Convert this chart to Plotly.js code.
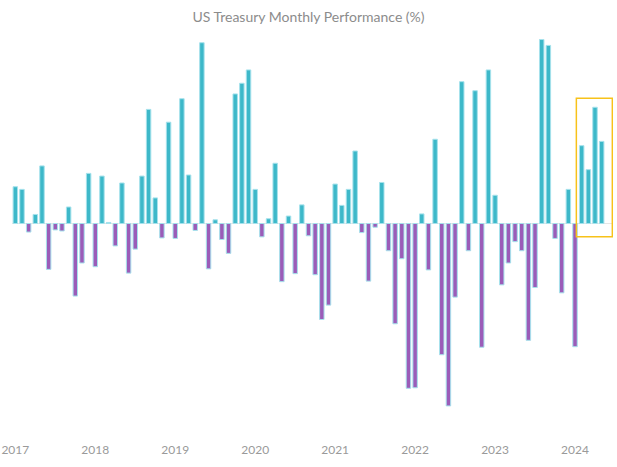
<!DOCTYPE html>
<html>
<head>
<meta charset="utf-8">
<script src="https://cdn.plot.ly/plotly-3.0.1.min.js"></script>
<style>html,body{margin:0;padding:0;background:#fff;}#chart{width:617px;height:467px;}</style>
</head>
<body>
<div id="chart"></div>
<script>
const months = [
  "Apr 2017","May 2017","Jun 2017","Jul 2017","Aug 2017","Sep 2017","Oct 2017","Nov 2017","Dec 2017",
  "Jan 2018","Feb 2018","Mar 2018","Apr 2018","May 2018","Jun 2018","Jul 2018","Aug 2018","Sep 2018","Oct 2018","Nov 2018","Dec 2018",
  "Jan 2019","Feb 2019","Mar 2019","Apr 2019","May 2019","Jun 2019","Jul 2019","Aug 2019","Sep 2019","Oct 2019","Nov 2019","Dec 2019",
  "Jan 2020","Feb 2020","Mar 2020","Apr 2020","May 2020","Jun 2020","Jul 2020","Aug 2020","Sep 2020","Oct 2020","Nov 2020","Dec 2020",
  "Jan 2021","Feb 2021","Mar 2021","Apr 2021","May 2021","Jun 2021","Jul 2021","Aug 2021","Sep 2021","Oct 2021","Nov 2021","Dec 2021",
  "Jan 2022","Feb 2022","Mar 2022","Apr 2022","May 2022","Jun 2022","Jul 2022","Aug 2022","Sep 2022","Oct 2022","Nov 2022","Dec 2022",
  "Jan 2023","Feb 2023","Mar 2023","Apr 2023","May 2023","Jun 2023","Jul 2023","Aug 2023","Sep 2023","Oct 2023","Nov 2023","Dec 2023",
  "Jan 2024","Feb 2024","Mar 2024","Apr 2024","May 2024","Jun 2024","Jul 2024","Aug 2024"
];
const returnsPct = [
  0.69, 0.64, -0.16, 0.17, 1.08, -0.86, -0.12, -0.14, 0.31,
  -1.36, -0.74, 0.94, -0.81, 0.89, 0.02, -0.42, 0.76, -0.93, -0.48, 0.89, 2.14,
  0.48, -0.27, 1.90, -0.28, 2.34, 0.91, -0.13, 3.39, -0.85, 0.07, -0.30, -0.56,
  2.43, 2.63, 2.88, 0.64, -0.25, 0.09, 1.13, -1.09, 0.14, -0.94, 0.35, -0.23,
  -0.96, -1.80, -1.53, 0.74, 0.34, 0.64, 1.36, -0.17, -1.08, -0.07, 0.77, -0.51,
  -1.88, -0.66, -3.09, -3.08, 0.18, -0.87, 1.58, -2.46, -3.42, -1.38, 2.66, -0.51,
  2.49, -2.32, 2.88, 0.53, -1.15, -0.74, -0.34, -0.51, -2.19, -1.20, 3.45, 3.34,
  -0.28, -1.30, 0.64, -2.31, 1.46, 1.01, 2.18, 1.54
];
const tickMonths = ["Apr 2017","Apr 2018","Apr 2019","Apr 2020","Apr 2021","Apr 2022","Apr 2023","Apr 2024"];
const tickLabels = ["2017","2018","2019","2020","2021","2022","2023","2024"];
const highlightMonths = ["May 2024","Jun 2024","Jul 2024","Aug 2024"];

const posColor = "#3db8c9";
const negColor = "#9b5cb8";
const colors = returnsPct.map(v => v >= 0 ? posColor : negColor);

const hiStart = months.indexOf(highlightMonths[0]);
const hiEnd = months.indexOf(highlightMonths[highlightMonths.length - 1]);
const hiVals = returnsPct.slice(hiStart, hiEnd + 1);

const trace = {
  type: "bar",
  x: months,
  y: returnsPct,
  marker: { color: colors, line: { color: "#a6e2ec", width: 1 } },
  hoverinfo: "x+y"
};

const layout = {
  width: 617, height: 467,
  margin: { l: 11.67, r: 4, t: 35, b: 26 },
  paper_bgcolor: "#ffffff", plot_bgcolor: "#ffffff",
  bargap: 0.33,
  showlegend: false,
  title: {
    text: "US Treasury Monthly Performance (%)",
    x: 0.5, xanchor: "center", y: 1 - 17/467, yanchor: "middle",
    font: { family: "Lato, 'Open Sans', sans-serif", size: 14, color: "#8c8c8c" }
  },
  xaxis: {
    type: "category",
    range: [-0.5, 89.7],
    tickmode: "array",
    tickvals: tickMonths,
    ticktext: tickLabels,
    showgrid: false, zeroline: false, showline: false, ticks: "",
    tickfont: { family: "Lato, 'Open Sans', sans-serif", size: 12, color: "#9a9a9a" }
  },
  yaxis: {
    range: [-4.078, 3.535],
    showgrid: false, showticklabels: false, ticks: "",
    zeroline: true, zerolinecolor: "#e6e6e6", zerolinewidth: 1
  },
  shapes: [{
    type: "rect", xref: "x", yref: "y",
    x0: hiStart - 0.8, x1: hiEnd + 1.6,
    y0: -0.25, y1: Math.max(...hiVals) + 0.17,
    line: { color: "#f7c21a", width: 1.5 },
    fillcolor: "rgba(0,0,0,0)"
  }]
};

Plotly.newPlot("chart", [trace], layout, { displayModeBar: false, staticPlot: true });
</script>
</body>
</html>
